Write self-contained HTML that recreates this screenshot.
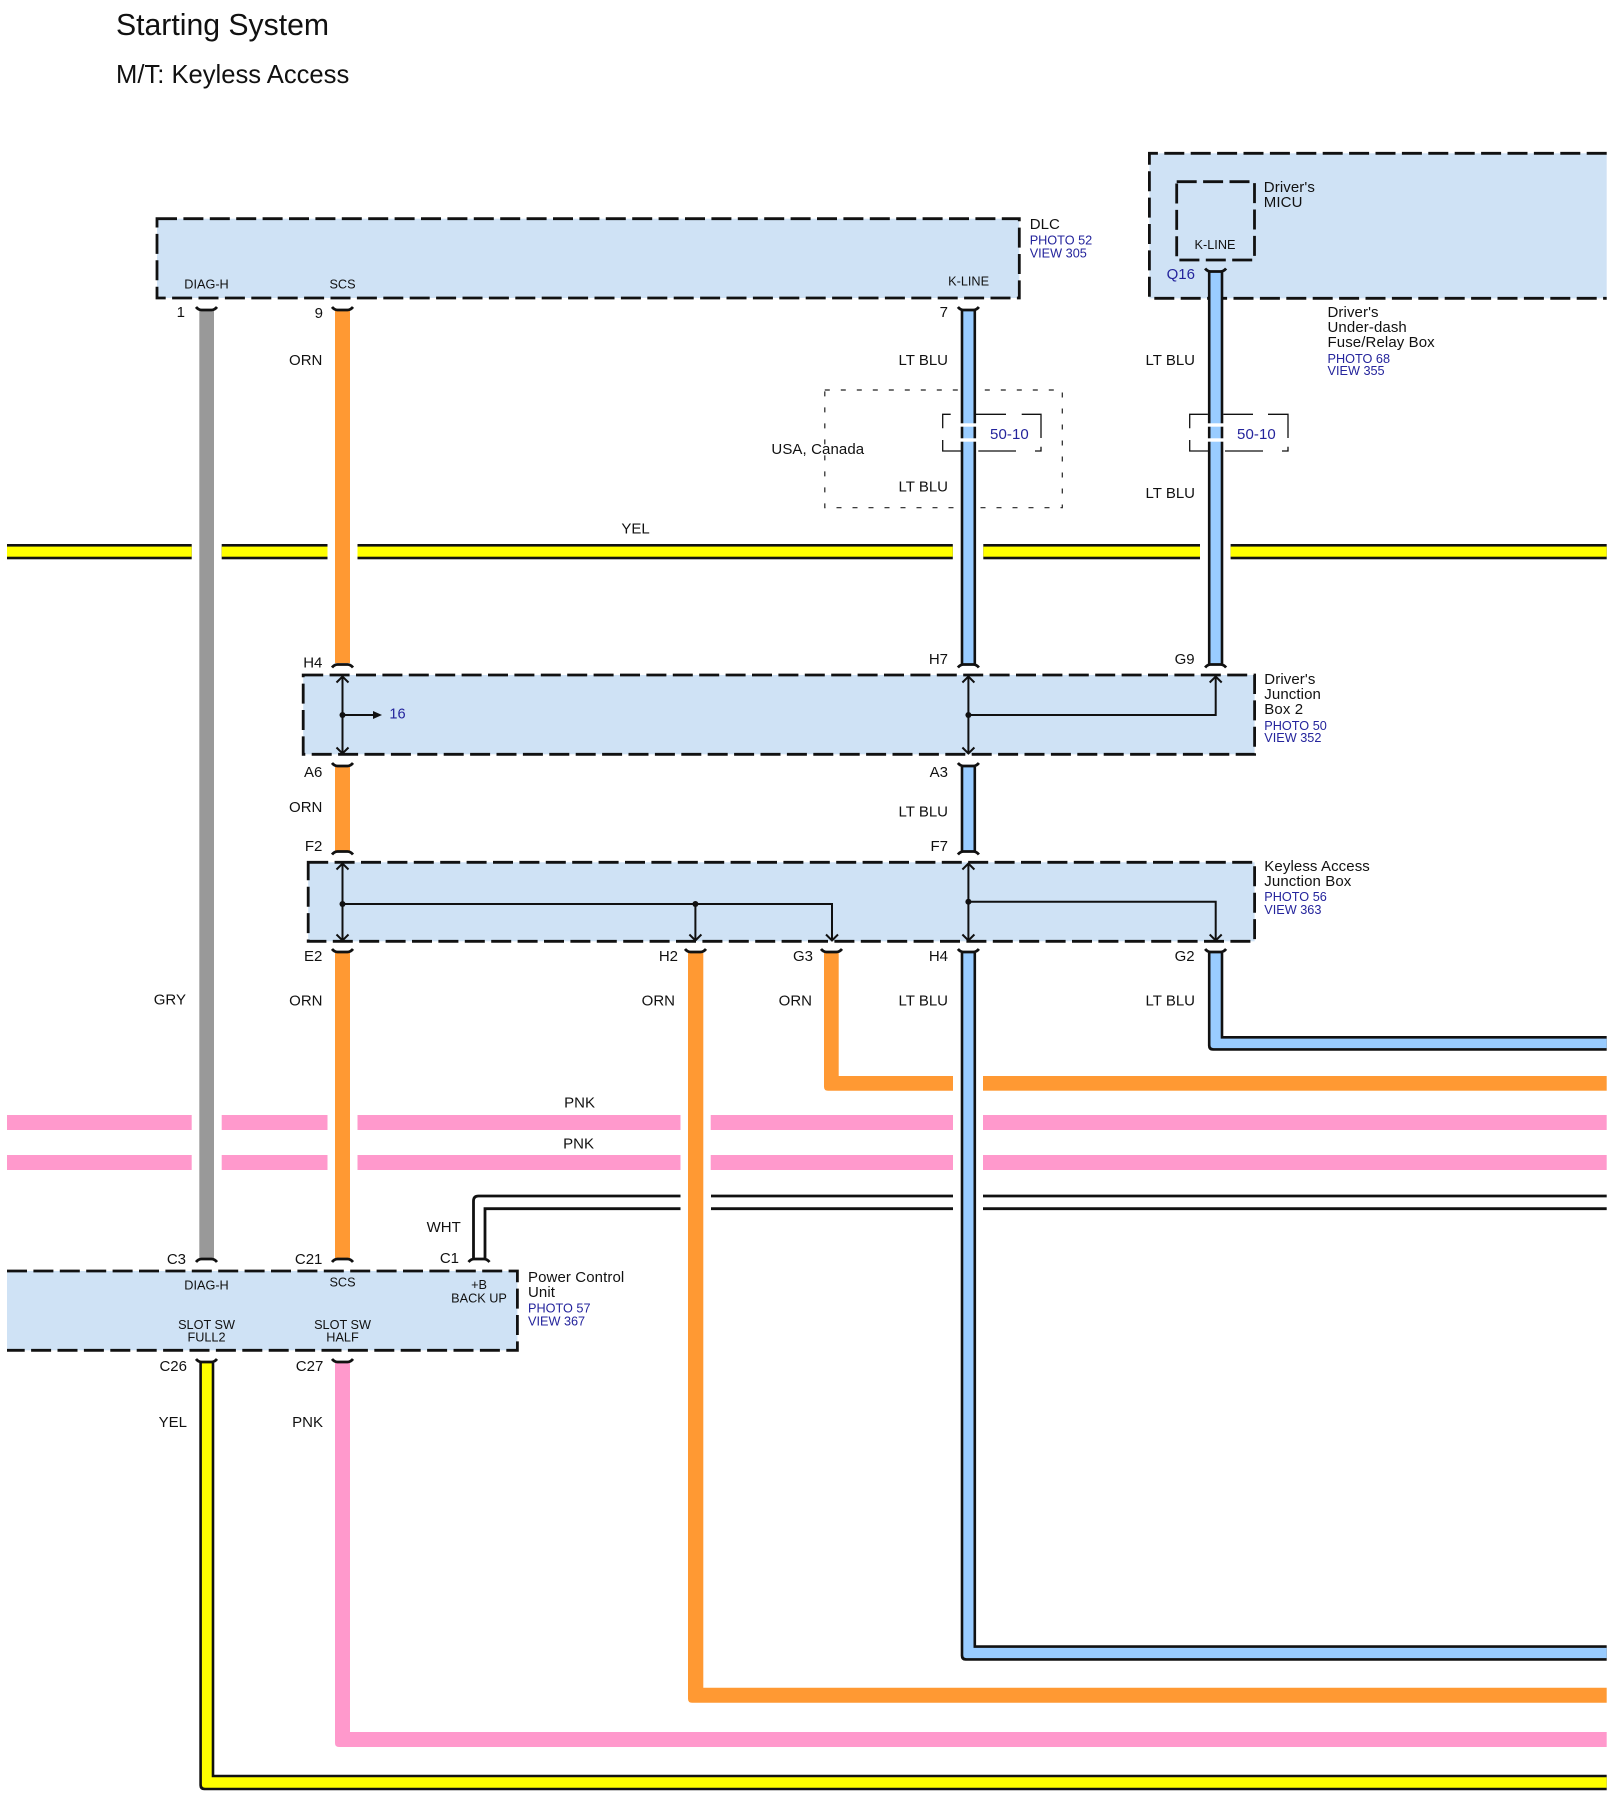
<!DOCTYPE html>
<html>
<head>
<meta charset="utf-8">
<title>Starting System</title>
<style>
html,body{margin:0;padding:0;background:#fff;}
svg{display:block;}
text{font-family:"Liberation Sans",sans-serif;fill:#111;}
.t15{font-size:15px;letter-spacing:.1px;}
.p{font-size:12.7px;text-anchor:middle;}
.e{font-size:15px;text-anchor:end;transform:translateX(1px);}
.b{font-size:12.7px;fill:#24249c;}
.box{stroke:#111;stroke-width:2.8;stroke-dasharray:20 6.4;fill:none;}
.thin{stroke:#111;stroke-width:1.3;fill:none;}
.ln{stroke:#111;stroke-width:2;fill:none;}
.cap{stroke:#111;stroke-width:2.8;fill:none;}
</style>
</head>
<body>
<svg width="1614" height="1798" viewBox="0 0 1614 1798" xmlns="http://www.w3.org/2000/svg">
<defs>
<path id="capN" class="cap" d="M-10.5 3.5 Q-8 0.5 -5 0.5 L5 0.5 Q8 0.5 10.5 3.5"/>
<path id="capU" class="cap" d="M-10.5 -3.5 Q-8 -0.5 -5 -0.5 L5 -0.5 Q8 -0.5 10.5 -3.5"/>
<path id="chU" class="ln" d="M-6 6.5 L0 0.5 L6 6.5"/>
<path id="chD" class="ln" d="M-6 -6.5 L0 -0.5 L6 -6.5"/>
</defs>

<rect width="1614" height="1798" fill="#fff"/>

<text x="116" y="35" style="font-size:30.2px">Starting System</text>
<text x="116" y="83" style="font-size:25.6px">M/T: Keyless Access</text>

<!-- box fills -->
<g fill="#cfe2f5">
<rect x="157" y="218.7" width="862.3" height="79.3"/>
<rect x="1149.4" y="153.3" width="457.3" height="145"/>
<rect x="303.2" y="675" width="951.4" height="79.3"/>
<rect x="308.2" y="862.3" width="946.4" height="79"/>
<rect x="7" y="1271" width="510.4" height="79.3"/>
</g>
<!-- box dashes -->
<path class="box" d="M157 218.7H1019.3V298H157V218.7Z"/>
<path class="box" d="M1606.7 153.3H1149.4V298.3H1606.7"/>
<path class="box" d="M1176.7 181.7H1254.5V260H1176.7V181.7Z"/>
<path class="box" d="M303.2 675H1254.6V754.3H303.2V675Z"/>
<path class="box" d="M308.2 862.3H1254.6V941.3H308.2V862.3Z"/>
<path class="box" d="M7 1271H517.4V1350.3H7"/>

<!-- dotted USA, Canada box -->
<path d="M824.8 390H1062.3V507.7H824.8V390Z" fill="none" stroke="#222" stroke-width="1.2" stroke-dasharray="5 11"/>

<!-- horizontal yellow -->
<g fill="#111">
<rect x="7" y="544" width="184.7" height="15.3"/>
<rect x="221.7" y="544" width="105.8" height="15.3"/>
<rect x="357.5" y="544" width="595.3" height="15.3"/>
<rect x="983.3" y="544" width="216.7" height="15.3"/>
<rect x="1230.6" y="544" width="376.1" height="15.3"/>
</g>
<g fill="#ffff00">
<rect x="7" y="546.6" width="184.7" height="10.1"/>
<rect x="221.7" y="546.6" width="105.8" height="10.1"/>
<rect x="357.5" y="546.6" width="595.3" height="10.1"/>
<rect x="983.3" y="546.6" width="216.7" height="10.1"/>
<rect x="1230.6" y="546.6" width="376.1" height="10.1"/>
</g>

<!-- pink horizontals -->
<g fill="#ff99cc">
<rect x="7" y="1115" width="184.7" height="15"/>
<rect x="221.7" y="1115" width="105.8" height="15"/>
<rect x="357.5" y="1115" width="323" height="15"/>
<rect x="710.7" y="1115" width="242.3" height="15"/>
<rect x="983" y="1115" width="623.7" height="15"/>
<rect x="7" y="1155" width="184.7" height="15"/>
<rect x="221.7" y="1155" width="105.8" height="15"/>
<rect x="357.5" y="1155" width="323" height="15"/>
<rect x="710.7" y="1155" width="242.3" height="15"/>
<rect x="983" y="1155" width="623.7" height="15"/>
</g>

<!-- white wire -->
<g fill="none" stroke="#111" stroke-width="2.8">
<path d="M473.5 1258V1201Q473.5 1196 478.5 1196H680.5"/>
<path d="M485 1258V1208.7H680.5"/>
<path d="M711 1196H953M711 1208.7H953M983 1196H1606.7M983 1208.7H1606.7"/>
</g>

<!-- grey -->
<rect x="199.3" y="310.5" width="14.7" height="947.5" fill="#999999"/>

<!-- orange verticals -->
<g fill="#ff9933">
<rect x="335" y="310.5" width="15" height="352.5"/>
<rect x="335" y="767" width="15" height="84"/>
<rect x="335" y="953" width="15" height="305"/>
<path d="M688 953V1698.7Q688 1702.7 692 1702.7H1606.7V1687.7H703.3V953Z"/>
<path d="M824 953V1086.7Q824 1090.7 828 1090.7H953V1076H838.7V953Z"/>
<rect x="983" y="1076" width="623.7" height="14.7"/>
</g>

<!-- pink wire from C27 -->
<path d="M335 1363V1743Q335 1747 339 1747H1606.7V1732H350V1363Z" fill="#ff99cc"/>

<!-- yellow wire from C26 -->
<path d="M199.3 1363V1785.3Q199.3 1790.3 204.3 1790.3H1606.7V1774.7H214.3V1363Z" fill="#111"/>
<path d="M201.9 1363V1784.5Q201.9 1787.7 205 1787.7H1606.7V1777.3H211.7V1363Z" fill="#ffff00"/>

<!-- blue wires -->
<g fill="#111">
<rect x="960.7" y="310.5" width="15.4" height="353.5"/>
<rect x="960.7" y="767" width="15.4" height="84"/>
<path d="M960.7 953V1655.7Q960.7 1660.7 965.7 1660.7H1606.7V1645.3H976.1V953Z"/>
<rect x="1207.9" y="272" width="15.4" height="392"/>
<path d="M1207.9 953V1045.7Q1207.9 1050.7 1212.9 1050.7H1606.7V1036H1223.3V953Z"/>
</g>
<g fill="#99ccff">
<rect x="963.3" y="310.5" width="10.2" height="353.5"/>
<rect x="963.3" y="767" width="10.2" height="84"/>
<path d="M963.3 953V1655Q963.3 1658.1 966.5 1658.1H1606.7V1647.9H973.5V953Z"/>
<rect x="1210.5" y="272" width="10.2" height="392"/>
<path d="M1210.5 953V1045Q1210.5 1048.1 1213.7 1048.1H1606.7V1038.6H1220.7V953Z"/>
</g>

<!-- white strips on blue wires inside brackets -->
<g fill="#fff">
<rect x="960" y="423.3" width="17" height="3.4"/>
<rect x="960" y="438.3" width="17" height="3.4"/>
<rect x="1207" y="423.3" width="17" height="3.4"/>
<rect x="1207" y="438.3" width="17" height="3.4"/>
</g>

<!-- brackets -->
<path class="thin" d="M942.7 428.3V414.3H950.7M975.7 414.3H1006M1021.7 414.3H1041V438M1041 446.7V451H1035M1016 451H978.3M961.7 451H942.7V440"/>
<path class="thin" d="M1189.7 428.3V414.3H1207.9M1223.3 414.3H1253M1268 414.3H1288V438M1288 446.7V451H1282M1263 451H1225M1208 451H1189.7V440"/>

<!-- caps -->
<g fill="none">
<use href="#capU" x="206.5" y="310.5"/>
<use href="#capU" x="342.5" y="310.5"/>
<use href="#capU" x="968.4" y="310.5"/>
<use href="#capU" x="1215.6" y="272"/>
<use href="#capU" x="342.5" y="766.5"/>
<use href="#capU" x="968.4" y="766.5"/>
<use href="#capU" x="342.5" y="952.5"/>
<use href="#capU" x="695.5" y="952.5"/>
<use href="#capU" x="831.5" y="952.5"/>
<use href="#capU" x="968.4" y="952.5"/>
<use href="#capU" x="1215.6" y="952.5"/>
<use href="#capU" x="206.5" y="1362.5"/>
<use href="#capU" x="342.5" y="1362.5"/>
<use href="#capN" x="342.5" y="664"/>
<use href="#capN" x="968.4" y="664"/>
<use href="#capN" x="1215.6" y="664"/>
<use href="#capN" x="342.5" y="851"/>
<use href="#capN" x="968.4" y="851"/>
<use href="#capN" x="206.5" y="1258.5"/>
<use href="#capN" x="342.5" y="1258.5"/>
<use href="#capN" x="479" y="1258.5"/>
</g>

<!-- internal connections: Driver's Junction Box 2 -->
<path class="ln" d="M342.5 676V754M968.4 676V754M342.5 715H374M968.4 715H1215.7V676"/>
<use href="#chU" x="342.5" y="676"/><use href="#chD" x="342.5" y="754"/>
<use href="#chU" x="968.4" y="676"/><use href="#chD" x="968.4" y="754"/>
<use href="#chU" x="1215.7" y="676"/>
<circle cx="342.5" cy="715" r="3" fill="#111"/>
<circle cx="968.4" cy="715" r="3" fill="#111"/>
<path d="M373 711V719L382 715Z" fill="#111"/>

<!-- internal connections: Keyless Access Junction Box -->
<path class="ln" d="M342.5 863V941M342.5 904H832V941M695.4 904V941M968.4 863V941M968.4 901.7H1215.7V941"/>
<use href="#chU" x="342.5" y="863"/><use href="#chD" x="342.5" y="941"/>
<use href="#chD" x="695.4" y="941"/><use href="#chD" x="832" y="941"/>
<use href="#chU" x="968.4" y="863"/><use href="#chD" x="968.4" y="941"/>
<use href="#chD" x="1215.7" y="941"/>
<circle cx="342.5" cy="904" r="3" fill="#111"/>
<circle cx="695.4" cy="904" r="3" fill="#111"/>
<circle cx="968.4" cy="901.7" r="3" fill="#111"/>

<!-- port labels -->
<text class="p" x="206.5" y="288.3">DIAG-H</text>
<text class="p" x="342.5" y="288.3">SCS</text>
<text class="p" x="968.6" y="285.7">K-LINE</text>
<text class="p" x="1215" y="249">K-LINE</text>
<text class="p" x="206.5" y="1289.7">DIAG-H</text>
<text class="p" x="342.5" y="1286.3">SCS</text>
<text class="p" x="479" y="1289">+B</text>
<text class="p" x="479" y="1302.3">BACK UP</text>
<text class="p" x="206.5" y="1329">SLOT SW</text>
<text class="p" x="206.5" y="1341.6">FULL2</text>
<text class="p" x="342.5" y="1329">SLOT SW</text>
<text class="p" x="342.5" y="1341.6">HALF</text>

<!-- pin labels -->
<text class="e" x="184" y="317">1</text>
<text class="e" x="322" y="318">9</text>
<text class="e" x="947" y="317">7</text>
<text class="e" x="1194" y="279" style="fill:#24249c">Q16</text>
<text class="e" x="321.4" y="667.3">H4</text>
<text class="e" x="947" y="664">H7</text>
<text class="e" x="1193.6" y="664">G9</text>
<text class="e" x="321.4" y="777">A6</text>
<text class="e" x="947" y="777">A3</text>
<text class="e" x="321.4" y="851">F2</text>
<text class="e" x="947" y="851">F7</text>
<text class="e" x="321.4" y="961">E2</text>
<text class="e" x="677" y="961">H2</text>
<text class="e" x="812" y="961">G3</text>
<text class="e" x="947" y="961">H4</text>
<text class="e" x="1193.6" y="961">G2</text>
<text class="e" x="185" y="1264">C3</text>
<text class="e" x="321.4" y="1264">C21</text>
<text class="e" x="458" y="1263">C1</text>
<text class="e" x="186" y="1371">C26</text>
<text class="e" x="322.3" y="1371">C27</text>

<!-- wire colour labels -->
<text class="e" x="321.4" y="365">ORN</text>
<text class="e" x="947" y="365">LT BLU</text>
<text class="e" x="1194" y="365">LT BLU</text>
<text class="e" x="947" y="491.3">LT BLU</text>
<text class="e" x="1194" y="498">LT BLU</text>
<text class="e" x="648.7" y="533.7">YEL</text>
<text class="e" x="321.4" y="812">ORN</text>
<text class="e" x="947" y="816.7">LT BLU</text>
<text class="e" x="185" y="1004.7">GRY</text>
<text class="e" x="321.5" y="1005.7">ORN</text>
<text class="e" x="674" y="1005.7">ORN</text>
<text class="e" x="811" y="1005.7">ORN</text>
<text class="e" x="947" y="1005.7">LT BLU</text>
<text class="e" x="1194" y="1005.7">LT BLU</text>
<text class="e" x="594" y="1107.4">PNK</text>
<text class="e" x="593" y="1148.4">PNK</text>
<text class="e" x="459.8" y="1232">WHT</text>
<text class="e" x="186" y="1427">YEL</text>
<text class="e" x="322" y="1427">PNK</text>

<text class="t15" x="771.4" y="454">USA, Canada</text>
<text class="t15" x="990" y="439" style="fill:#24249c">50-10</text>
<text class="t15" x="1237" y="439" style="fill:#24249c">50-10</text>
<text x="389.4" y="718.7" style="font-size:14.6px;fill:#24249c">16</text>

<!-- component labels -->
<text class="t15" x="1029.7" y="229">DLC</text>
<text class="b" x="1029.7" y="244.3">PHOTO 52</text>
<text class="b" x="1029.7" y="257.3">VIEW 305</text>

<text class="t15" x="1263.8" y="192">Driver's</text>
<text class="t15" x="1263.8" y="207">MICU</text>

<text class="t15" x="1327.5" y="317">Driver's</text>
<text class="t15" x="1327.5" y="332">Under-dash</text>
<text class="t15" x="1327.5" y="347">Fuse/Relay Box</text>
<text class="b" x="1327.5" y="363">PHOTO 68</text>
<text class="b" x="1327.5" y="375">VIEW 355</text>

<text class="t15" x="1264.3" y="684">Driver's</text>
<text class="t15" x="1264.3" y="699">Junction</text>
<text class="t15" x="1264.3" y="714">Box 2</text>
<text class="b" x="1264.3" y="730">PHOTO 50</text>
<text class="b" x="1264.3" y="742">VIEW 352</text>

<text class="t15" x="1264.3" y="871">Keyless Access</text>
<text class="t15" x="1264.3" y="886">Junction Box</text>
<text class="b" x="1264.3" y="901">PHOTO 56</text>
<text class="b" x="1264.3" y="914">VIEW 363</text>

<text class="t15" x="528" y="1282">Power Control</text>
<text class="t15" x="528" y="1297">Unit</text>
<text class="b" x="528" y="1312.7">PHOTO 57</text>
<text class="b" x="528" y="1325.3">VIEW 367</text>
</svg>
</body>
</html>
